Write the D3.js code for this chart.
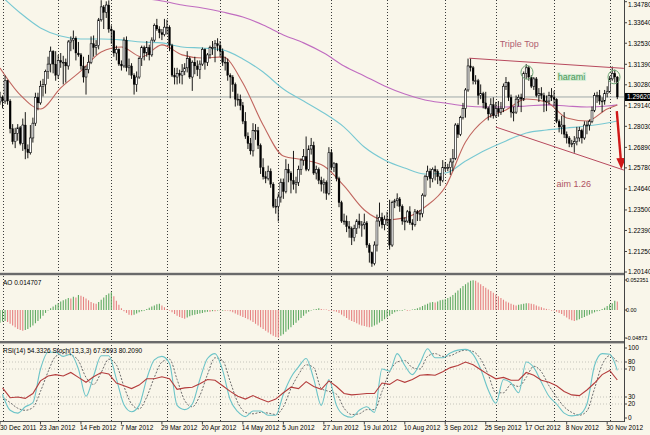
<!DOCTYPE html>
<html><head><meta charset="utf-8">
<script src="https://cdn.jsdelivr.net/npm/d3@7"></script>
<style>
body{margin:0;background:#fff}
svg{display:block}
text{font-family:"Liberation Sans",Arial,sans-serif}
</style></head>
<body><svg id="c" width="650" height="435"></svg>
<script>
// ---------- DATA ----------
const dateLabels = ["30 Dec 2011","23 Jan 2012","14 Feb 2012","7 Mar 2012","29 Mar 2012","20 Apr 2012","14 May 2012","5 Jun 2012","27 Jun 2012","19 Jul 2012","10 Aug 2012","3 Sep 2012","25 Sep 2012","17 Oct 2012","8 Nov 2012","30 Nov 2012"];

const open = [1.2935,1.2961,1.2940,1.3050,1.2940,1.2790,1.2720,1.2765,1.2795,1.2710,1.2810,1.2680,1.2660,1.2740,1.2820,1.2960,1.2930,1.3020,1.3030,1.3100,1.3140,1.3210,1.3140,1.3080,1.3160,1.3150,1.3150,1.3130,1.3260,1.3270,1.3280,1.3200,1.3190,1.3130,1.3070,1.3110,1.3150,1.3250,1.3230,1.3240,1.3380,1.3450,1.3420,1.3460,1.3330,1.3320,1.3200,1.3220,1.3140,1.3130,1.3270,1.3120,1.3130,1.3080,1.3030,1.3070,1.3170,1.3230,1.3200,1.3230,1.3190,1.3270,1.3350,1.3330,1.3310,1.3300,1.3340,1.3340,1.3240,1.3080,1.3070,1.3090,1.3080,1.3100,1.3120,1.3170,1.3070,1.3150,1.3130,1.3110,1.3140,1.3220,1.3150,1.3190,1.3230,1.3230,1.3250,1.3240,1.3210,1.3150,1.3150,1.3080,1.3070,1.3030,1.2950,1.2950,1.2915,1.2830,1.2750,1.2710,1.2670,1.2780,1.2780,1.2700,1.2580,1.2530,1.2520,1.2560,1.2490,1.2370,1.2370,1.2420,1.2500,1.2450,1.2570,1.2550,1.2510,1.2490,1.2500,1.2570,1.2620,1.2640,1.2570,1.2680,1.2700,1.2550,1.2570,1.2510,1.2490,1.2500,1.2440,1.2660,1.2580,1.2600,1.2520,1.2390,1.2290,1.2290,1.2260,1.2250,1.2200,1.2250,1.2290,1.2270,1.2270,1.2280,1.2160,1.2120,1.2060,1.2160,1.2290,1.2310,1.2270,1.2300,1.2300,1.2160,1.2390,1.2400,1.2410,1.2370,1.2290,1.2290,1.2340,1.2280,1.2270,1.2340,1.2330,1.2330,1.2430,1.2530,1.2560,1.2520,1.2570,1.2560,1.2530,1.2510,1.2580,1.2580,1.2580,1.2610,1.2630,1.2810,1.2760,1.2850,1.2900,1.3000,1.3130,1.3120,1.3050,1.3050,1.2970,1.2980,1.2930,1.2900,1.2870,1.2920,1.2860,1.2900,1.2880,1.2900,1.3020,1.3040,1.2960,1.2880,1.2880,1.2950,1.2960,1.2950,1.3090,1.3120,1.3070,1.3020,1.3060,1.2970,1.2980,1.2970,1.2940,1.2940,1.2970,1.2960,1.2950,1.2830,1.2800,1.2810,1.2760,1.2740,1.2710,1.2710,1.2720,1.2740,1.2780,1.2740,1.2810,1.2810,1.2830,1.2890,1.2970,1.2970,1.2940,1.2940,1.2980,1.2990,1.3060,1.3090,1.3070];
const high = [1.2990,1.2970,1.3078,1.3055,1.2950,1.2815,1.2795,1.2815,1.2805,1.2845,1.2880,1.2705,1.2810,1.2850,1.2985,1.2985,1.3050,1.3060,1.3110,1.3180,1.3235,1.3215,1.3210,1.3190,1.3200,1.3185,1.3170,1.3270,1.3290,1.3322,1.3290,1.3260,1.3200,1.3180,1.3130,1.3190,1.3290,1.3295,1.3270,1.3390,1.3486,1.3460,1.3480,1.3485,1.3350,1.3325,1.3240,1.3225,1.3160,1.3285,1.3290,1.3170,1.3145,1.3090,1.3100,1.3180,1.3240,1.3240,1.3265,1.3245,1.3285,1.3360,1.3385,1.3345,1.3330,1.3385,1.3380,1.3350,1.3250,1.3120,1.3120,1.3110,1.3140,1.3145,1.3210,1.3180,1.3160,1.3180,1.3160,1.3160,1.3230,1.3225,1.3200,1.3240,1.3265,1.3270,1.3280,1.3265,1.3225,1.3180,1.3170,1.3090,1.3080,1.3040,1.2980,1.2975,1.2935,1.2880,1.2770,1.2740,1.2820,1.2815,1.2800,1.2710,1.2630,1.2560,1.2590,1.2575,1.2500,1.2410,1.2440,1.2520,1.2520,1.2625,1.2600,1.2560,1.2670,1.2530,1.2590,1.2630,1.2680,1.2748,1.2700,1.2740,1.2720,1.2590,1.2580,1.2530,1.2520,1.2510,1.2690,1.2680,1.2610,1.2605,1.2530,1.2400,1.2330,1.2320,1.2290,1.2260,1.2270,1.2300,1.2330,1.2290,1.2330,1.2290,1.2170,1.2125,1.2180,1.2325,1.2390,1.2335,1.2320,1.2340,1.2405,1.2400,1.2410,1.2440,1.2420,1.2380,1.2310,1.2350,1.2370,1.2300,1.2355,1.2350,1.2350,1.2440,1.2540,1.2590,1.2575,1.2580,1.2590,1.2570,1.2550,1.2620,1.2610,1.2600,1.2630,1.2680,1.2820,1.2820,1.2860,1.2930,1.3010,1.3170,1.3172,1.3130,1.3080,1.3060,1.3030,1.2990,1.2990,1.2910,1.2955,1.2960,1.2935,1.2940,1.2935,1.3035,1.3070,1.3045,1.2975,1.2910,1.2970,1.2975,1.2980,1.3100,1.3140,1.3130,1.3080,1.3070,1.3070,1.3010,1.3015,1.2985,1.2970,1.2990,1.3010,1.2995,1.2955,1.2840,1.2860,1.2880,1.2775,1.2750,1.2730,1.2750,1.2800,1.2800,1.2790,1.2830,1.2830,1.2840,1.2910,1.2985,1.2990,1.3000,1.2960,1.3000,1.3020,1.3075,1.3127,1.3110,1.3075];
const low = [1.2920,1.2900,1.2925,1.2920,1.2765,1.2705,1.2685,1.2725,1.2700,1.2670,1.2625,1.2630,1.2650,1.2715,1.2805,1.2890,1.2920,1.2965,1.2980,1.3060,1.3095,1.3090,1.3050,1.3060,1.3120,1.3030,1.3040,1.3110,1.3210,1.3220,1.3160,1.3180,1.3110,1.3040,1.2975,1.3090,1.3140,1.3180,1.3190,1.3220,1.3370,1.3330,1.3390,1.3310,1.3250,1.3180,1.3160,1.3130,1.3105,1.3120,1.3100,1.3080,1.3060,1.2975,1.2990,1.3060,1.3130,1.3160,1.3180,1.3160,1.3180,1.3260,1.3320,1.3280,1.3270,1.3290,1.3300,1.3210,1.3070,1.3030,1.3030,1.3035,1.3030,1.3080,1.3095,1.3060,1.2995,1.3085,1.3075,1.3060,1.3130,1.3110,1.3130,1.3170,1.3190,1.3150,1.3210,1.3180,1.3130,1.3105,1.3050,1.2955,1.2990,1.2910,1.2915,1.2890,1.2815,1.2735,1.2680,1.2650,1.2640,1.2730,1.2680,1.2545,1.2515,1.2495,1.2510,1.2470,1.2360,1.2330,1.2288,1.2390,1.2410,1.2440,1.2500,1.2440,1.2460,1.2440,1.2480,1.2540,1.2590,1.2560,1.2560,1.2650,1.2540,1.2515,1.2490,1.2450,1.2440,1.2405,1.2430,1.2565,1.2555,1.2505,1.2365,1.2280,1.2270,1.2230,1.2200,1.2160,1.2180,1.2220,1.2250,1.2205,1.2245,1.2145,1.2065,1.2042,1.2050,1.2125,1.2260,1.2250,1.2240,1.2265,1.2135,1.2150,1.2360,1.2370,1.2340,1.2270,1.2240,1.2280,1.2270,1.2240,1.2260,1.2290,1.2290,1.2310,1.2420,1.2510,1.2470,1.2500,1.2510,1.2490,1.2480,1.2500,1.2560,1.2560,1.2540,1.2560,1.2620,1.2740,1.2750,1.2840,1.2850,1.2990,1.3100,1.3030,1.3030,1.2920,1.2950,1.2900,1.2895,1.2835,1.2850,1.2845,1.2850,1.2855,1.2865,1.2880,1.3000,1.2940,1.2850,1.2830,1.2870,1.2910,1.2880,1.2940,1.3060,1.3050,1.3010,1.3000,1.2960,1.2935,1.2950,1.2880,1.2885,1.2920,1.2940,1.2910,1.2820,1.2770,1.2760,1.2740,1.2710,1.2690,1.2690,1.2660,1.2700,1.2720,1.2710,1.2730,1.2760,1.2780,1.2820,1.2880,1.2930,1.2920,1.2880,1.2920,1.2960,1.2985,1.3050,1.3040,1.2950];
const close = [1.2961,1.2940,1.3050,1.2940,1.2790,1.2720,1.2765,1.2795,1.2710,1.2810,1.2680,1.2660,1.2740,1.2820,1.2960,1.2930,1.3020,1.3030,1.3100,1.3140,1.3210,1.3140,1.3080,1.3160,1.3150,1.3150,1.3130,1.3260,1.3270,1.3280,1.3200,1.3190,1.3130,1.3070,1.3110,1.3150,1.3250,1.3230,1.3240,1.3380,1.3450,1.3420,1.3460,1.3330,1.3320,1.3200,1.3220,1.3140,1.3130,1.3270,1.3120,1.3130,1.3080,1.3030,1.3070,1.3170,1.3230,1.3200,1.3230,1.3190,1.3270,1.3350,1.3330,1.3310,1.3300,1.3340,1.3340,1.3240,1.3080,1.3070,1.3090,1.3080,1.3100,1.3120,1.3170,1.3070,1.3150,1.3130,1.3110,1.3140,1.3220,1.3150,1.3190,1.3230,1.3230,1.3250,1.3240,1.3210,1.3150,1.3150,1.3080,1.3070,1.3030,1.2950,1.2950,1.2915,1.2830,1.2750,1.2710,1.2670,1.2780,1.2780,1.2700,1.2580,1.2530,1.2520,1.2560,1.2490,1.2370,1.2370,1.2420,1.2500,1.2450,1.2570,1.2550,1.2510,1.2490,1.2500,1.2570,1.2620,1.2640,1.2570,1.2680,1.2700,1.2550,1.2570,1.2510,1.2490,1.2500,1.2440,1.2660,1.2580,1.2600,1.2520,1.2390,1.2290,1.2290,1.2260,1.2250,1.2200,1.2250,1.2290,1.2270,1.2270,1.2280,1.2160,1.2120,1.2060,1.2160,1.2290,1.2310,1.2270,1.2300,1.2300,1.2160,1.2390,1.2400,1.2410,1.2370,1.2290,1.2290,1.2340,1.2280,1.2270,1.2340,1.2330,1.2330,1.2430,1.2530,1.2560,1.2520,1.2570,1.2560,1.2530,1.2510,1.2580,1.2580,1.2580,1.2610,1.2630,1.2810,1.2760,1.2850,1.2900,1.3000,1.3130,1.3120,1.3050,1.3050,1.2970,1.2980,1.2930,1.2900,1.2870,1.2920,1.2860,1.2900,1.2880,1.2900,1.3020,1.3040,1.2960,1.2880,1.2880,1.2950,1.2960,1.2950,1.3090,1.3120,1.3070,1.3020,1.3060,1.2970,1.2980,1.2970,1.2940,1.2940,1.2970,1.2960,1.2950,1.2830,1.2800,1.2810,1.2760,1.2740,1.2710,1.2710,1.2720,1.2740,1.2780,1.2740,1.2810,1.2810,1.2830,1.2890,1.2970,1.2970,1.2940,1.2940,1.2980,1.2990,1.3060,1.3090,1.3070,1.2962];

// moving averages, read at every 8th bar (bar index -> price)
const maIdx = [0,8,16,24,32,40,48,56,64,72,80,88,96,104,112,120,128,136,144,152,160,168,176,184,192,200,208,216,224,232,240,244];
const maRed = [1.3119,1.2973,1.2897,1.3011,1.3103,1.3206,1.3233,1.3179,1.3244,1.3190,1.3173,1.3179,1.3038,1.2810,1.2642,1.2621,1.2588,1.2480,1.2350,1.2296,1.2307,1.2366,1.2474,1.2718,1.2843,1.2892,1.2951,1.2935,1.2848,1.2832,1.2897,1.2919];
const maCyan = [1.3515,1.3417,1.3336,1.3292,1.3276,1.3276,1.3271,1.3260,1.3255,1.3233,1.3227,1.3217,1.3168,1.3097,1.3005,1.2940,1.2875,1.2799,1.2691,1.2621,1.2577,1.2545,1.2550,1.2615,1.2675,1.2724,1.2767,1.2783,1.2794,1.2805,1.2821,1.2832];
const maPurple = [1.3639,1.3617,1.3595,1.3573,1.3552,1.3531,1.3515,1.3498,1.3482,1.3460,1.3444,1.3422,1.3395,1.3352,1.3298,1.3255,1.3200,1.3130,1.3076,1.3022,1.2978,1.2946,1.2929,1.2913,1.2908,1.2908,1.2913,1.2919,1.2913,1.2908,1.2913,1.2919];

// Awesome Oscillator, one per bar, in thousandths
const aoMilli = [-22,-20,-19,-21,-24,-27,-30,-33,-35,-36,-35,-33,-30,-27,-23,-19,-15,-10,-5,-1,3,6,9,12,15,17,19,21,20,23,22,26,25,23,20,17,14,12,11,14,18,22,26,29,31,24,16,9,3,-2,-5,-8,-9,-8,-6,-4,-2,0,2,4,6,8,10,11,8,5,2,-1,-4,-7,-10,-12,-14,-15,-13,-11,-9,-8,-7,-6,-5,-4,-3,-3,-2,-2,-1,-1,0,0,-1,-2,-4,-6,-8,-10,-12,-14,-16,-18,-21,-24,-27,-30,-33,-36,-39,-42,-45,-47,-48,-45,-42,-38,-34,-30,-26,-22,-18,-14,-10,-6,-3,-1,1,2,3,2,1,1,0,-1,-2,-3,-5,-8,-11,-14,-17,-19,-21,-23,-25,-27,-28,-29,-30,-29,-27,-25,-22,-19,-16,-13,-10,-7,-4,-2,-1,0,1,0,-1,1,2,3,5,7,9,11,13,14,13,15,17,18,19,21,23,26,30,34,38,42,45,48,51,52,51,48,45,42,39,36,33,30,27,24,21,18,15,13,11,9,8,9,10,11,12,12,11,10,8,6,5,3,2,1,0,-1,-3,-5,-7,-10,-13,-16,-18,-19,-18,-16,-14,-12,-10,-8,-6,-4,-2,0,2,4,7,10,12,16,14.707];

// RSI(14) and Stochastic(13,3,3), read at every 3rd bar starting with bar 1
const rsi = [43,29,30,28,35,53,60,62,60,65,58,51,59,65,63,50,46,42,47,56,56,59,56,41,43,44,49,55,54,46,38,31,27,32,27,23,27,36,44,42,52,45,41,53,45,35,33,34,35,35,50,48,55,51,55,61,62,61,66,72,75,80,76,69,62,56,58,54,54,65,61,54,51,46,38,33,32,40,50,62,68,54.3326];
const stochMain = [34,11,7,16,22,70,94,94,88,91,70,31,60,89,89,56,19,9,18,56,83,88,78,18,12,20,55,85,92,68,26,9,2,10,10,4,4,34,58,73,85,56,18,55,18,4,1,11,16,8,70,67,92,75,62,78,99,86,86,93,97,98,91,70,40,21,55,50,36,80,72,51,31,20,7,3,5,20,75,92,91,67.9593];
const stochSignal = [30,22,14,11,15,38,66,88,92,90,82,58,48,65,84,76,45,20,13,30,58,80,84,55,25,16,32,62,86,82,52,22,8,6,8,7,5,16,42,62,76,72,42,38,34,14,5,6,12,12,38,66,80,82,72,70,88,92,88,89,94,97,95,84,62,36,36,48,45,58,74,66,46,30,16,8,4,10,42,76,89,80.2090];

const priceTicks = [1.34780,1.33640,1.32530,1.31390,1.30280,1.29140,1.28030,1.26890,1.25780,1.24640,1.23500,1.22390,1.21250,1.20140];
const aoTicks = [0.052351,0,-0.04873];
const aoTickLabels = ["0.052351","0.00","-0.04873"];
const rsiTicks = [100,80,70,30,20,0];
const rsiLevels = [80,70,30,20];
const bidPrice = 1.2962;

// annotations (bar index, price)
const topLine = [[185.5,1.3172],[246.6,1.3117]];
const bottomLine = [[196,1.2799],[246.6,1.2566]];
const arrowPts = [[243.8,1.2885],[245.6,1.2570]];
const haramiCircles = [[208.3,1.3095],[242.7,1.3070]];

// ---------- LAYOUT ----------
const svg = d3.select("#c");
const W = 650, axisX = 624;
const bg = "#f9f6ea";
svg.append("rect").attr("width",W).attr("height",435).attr("fill",bg);

const N = close.length;
const dates = d3.timeDay.range(new Date(2011,11,30), new Date(2012,11,7)).filter(d=>d.getDay()%6!==0);
const fmt = d3.timeFormat("%-d %b %Y");

const x = d3.scaleLinear().domain([0, N-1]).range([0, 617.3]);
const y = d3.scaleLinear().domain([1.20140, 1.34780]).range([272, 1.7]);
const yAO = d3.scaleLinear().domain([-0.04873, 0.052351]).range([338, 280]);
const yR = d3.scaleLinear().domain([0,100]).range([418, 348]);

const defs = svg.append("defs");
defs.append("clipPath").attr("id","cm").append("rect").attr("x",0).attr("y",0).attr("width",axisX).attr("height",272.5);
defs.append("clipPath").attr("id","ca").append("rect").attr("x",0).attr("y",276).attr("width",axisX).attr("height",65);
defs.append("clipPath").attr("id","cr").append("rect").attr("x",0).attr("y",344).attr("width",axisX).attr("height",77);

// month separators (dotted vertical)
const monthStarts = d3.range(1,N).filter(i=>dates[i].getMonth()!==dates[i-1].getMonth());
svg.append("g").selectAll("line").data(monthStarts).join("line")
  .attr("x1",i=>Math.round(x(i))+0.5).attr("x2",i=>Math.round(x(i))+0.5)
  .attr("y1",0).attr("y2",421)
  .attr("stroke","#3a3a3a").attr("stroke-width",1).attr("stroke-dasharray","1,2");

// ---------- MAIN PANEL ----------
const gm = svg.append("g").attr("clip-path","url(#cm)");
gm.append("line").attr("x1",0).attr("x2",axisX).attr("y1",y(bidPrice)).attr("y2",y(bidPrice))
  .attr("stroke","#9fa9a9").attr("stroke-width",1);

const maLine = d3.line().x((d,k)=>x(maIdx[k])).y(d=>y(d)).curve(d3.curveMonotoneX);
[[maPurple,"#c06cc0"],[maCyan,"#78c8d2"],[maRed,"#c0655e"]].forEach(([arr,col])=>{
  gm.append("path").datum(arr).attr("d",maLine).attr("fill","none").attr("stroke",col).attr("stroke-width",1.1);
});

// candles
const cg = gm.append("g");
d3.range(N).forEach(i=>{
  const cx = x(i);
  cg.append("line").attr("x1",cx).attr("x2",cx).attr("y1",y(high[i])).attr("y2",y(low[i]))
    .attr("stroke","#000").attr("stroke-width",0.9);
  const top = y(Math.max(open[i],close[i])), bot = y(Math.min(open[i],close[i]));
  const bull = close[i] >= open[i];
  cg.append("rect").attr("x",cx-0.95).attr("width",1.9)
    .attr("y",top).attr("height",Math.max(0.8,bot-top))
    .attr("fill",bull?"#ffffff":"#000").attr("stroke","#000").attr("stroke-width",bull?0.6:0.3);
});

// trend lines
const tl = d3.line().x(d=>x(d[0])).y(d=>y(d[1]));
[topLine,bottomLine].forEach(l=>{
  gm.append("path").attr("d",tl(l)).attr("fill","none").attr("stroke","#b84a5e").attr("stroke-width",1);
});
haramiCircles.forEach(c=>{
  gm.append("ellipse").attr("cx",x(c[0])).attr("cy",y(c[1])).attr("rx",6).attr("ry",6.8)
    .attr("fill","none").attr("stroke","#6fa676").attr("stroke-width",1);
});
const a0 = [x(arrowPts[0][0]),y(arrowPts[0][1])], a1=[x(arrowPts[1][0]),y(arrowPts[1][1])];
gm.append("line").attr("x1",a0[0]).attr("y1",a0[1]).attr("x2",a1[0]-0.4).attr("y2",a1[1]-8)
  .attr("stroke","#d01818").attr("stroke-width",2.4);
gm.append("path").attr("d",`M${a1[0]},${a1[1]} L${a1[0]-5},${a1[1]-11} L${a1[0]+4.5},${a1[1]-11.5} Z`).attr("fill","#d01818");

gm.append("text").attr("x",x(197.5)).attr("y",y(1.3232)).text("Triple Top")
  .attr("font-size",9).attr("fill","#b06070");
gm.append("text").attr("x",x(220.5)).attr("y",y(1.3056)).text("harami")
  .attr("font-size",9).attr("fill","#4a9858").attr("stroke","#d6ecd4").attr("stroke-width",2.2)
  .attr("paint-order","stroke");
gm.append("text").attr("x",x(220)).attr("y",y(1.2476)).text("aim 1.26")
  .attr("font-size",9).attr("fill","#b05262");

// ---------- AO PANEL ----------
const ga = svg.append("g").attr("clip-path","url(#ca)");
ga.selectAll("line").data(aoMilli).join("line")
  .attr("x1",(d,i)=>x(i)).attr("x2",(d,i)=>x(i))
  .attr("y1",yAO(0)).attr("y2",d=>yAO(d/1000) + (Math.abs(d)<0.6 ? 0.6 : 0))
  .attr("stroke",(d,i)=> (i===0 || d>aoMilli[i-1]) ? "#5faa62" : "#e68282")
  .attr("stroke-width",1.1);
svg.append("text").attr("x",3).attr("y",284.5).text("AO 0.014707").attr("font-size",6.5).attr("fill","#000");

// ---------- RSI / STOCH PANEL ----------
const gr = svg.append("g").attr("clip-path","url(#cr)");
gr.selectAll("line").data(rsiLevels).join("line")
  .attr("x1",0).attr("x2",axisX).attr("y1",d=>yR(d)).attr("y2",d=>yR(d))
  .attr("stroke","#b9b9b0").attr("stroke-width",0.8).attr("stroke-dasharray","1,2");
const oscIdx = d3.range(1, N, 3);
const oscLine = d3.line().x((d,k)=>x(oscIdx[k])).y(d=>yR(d)).curve(d3.curveMonotoneX);
gr.append("path").datum(stochSignal).attr("d",oscLine).attr("fill","none")
  .attr("stroke","#6c6c6c").attr("stroke-width",1).attr("stroke-dasharray","2,1.5");
gr.append("path").datum(stochMain).attr("d",oscLine).attr("fill","none")
  .attr("stroke","#6cc4c8").attr("stroke-width",1.1);
gr.append("path").datum(rsi).attr("d",d3.line().x((d,k)=>x(oscIdx[k])).y(d=>yR(d)).curve(d3.curveLinear))
  .attr("fill","none").attr("stroke","#b43c3c").attr("stroke-width",1.1);
svg.append("text").attr("x",3).attr("y",352.5).text("RSI(14) 54.3326  Stoch(13,3,3) 67.9593 80.2090")
  .attr("font-size",6.5).attr("fill","#000");

// ---------- FRAMES ----------
svg.append("rect").attr("x",0).attr("y",272.8).attr("width",axisX).attr("height",2.4).attr("fill","#6a6a6a");
svg.append("rect").attr("x",0).attr("y",341).attr("width",axisX).attr("height",2.4).attr("fill","#6a6a6a");
svg.append("line").attr("x1",0).attr("x2",axisX).attr("y1",421.5).attr("y2",421.5).attr("stroke","#555");
svg.append("line").attr("x1",axisX+0.5).attr("x2",axisX+0.5).attr("y1",0).attr("y2",422).attr("stroke","#444");

// ---------- RIGHT AXES ----------
const ax = svg.append("g").attr("fill","#000");
function rightAxis(vals, scale, labels, fs, dx){
  vals.forEach((v,k)=>{
    const yy = scale(v);
    ax.append("line").attr("x1",axisX).attr("x2",axisX+3).attr("y1",yy).attr("y2",yy).attr("stroke","#444");
    ax.append("text").attr("x",axisX+dx).attr("y",Math.max(6.5, yy+2.3)).attr("font-size",fs).text(labels[k]);
  });
}
rightAxis(priceTicks, y, priceTicks.map(v=>v.toFixed(5)), 6.5, 4);
rightAxis(aoTicks, yAO, aoTickLabels, 5.4, 2);
rightAxis(rsiTicks, yR, rsiTicks.map(String), 6.5, 4);
svg.append("rect").attr("x",axisX+1).attr("y",y(bidPrice)-4).attr("width",W-axisX-1).attr("height",8).attr("fill","#000");
svg.append("text").attr("x",axisX+3).attr("y",y(bidPrice)+2.4).text(bidPrice.toFixed(5))
  .attr("font-size",6.5).attr("fill","#fff");

// ---------- DATE AXIS ----------
const dg = svg.append("g").attr("font-size",6.5).attr("fill","#000");
dateLabels.forEach(lbl=>{
  const i = dates.findIndex(d=>fmt(d)===lbl);
  if(i<0) return;
  const xx = x(i);
  dg.append("line").attr("x1",xx).attr("x2",xx).attr("y1",421.5).attr("y2",424.5).attr("stroke","#444");
  dg.append("text").attr("x",Math.max(0,xx-1)).attr("y",430).text(lbl);
});
</script>
</body></html>
